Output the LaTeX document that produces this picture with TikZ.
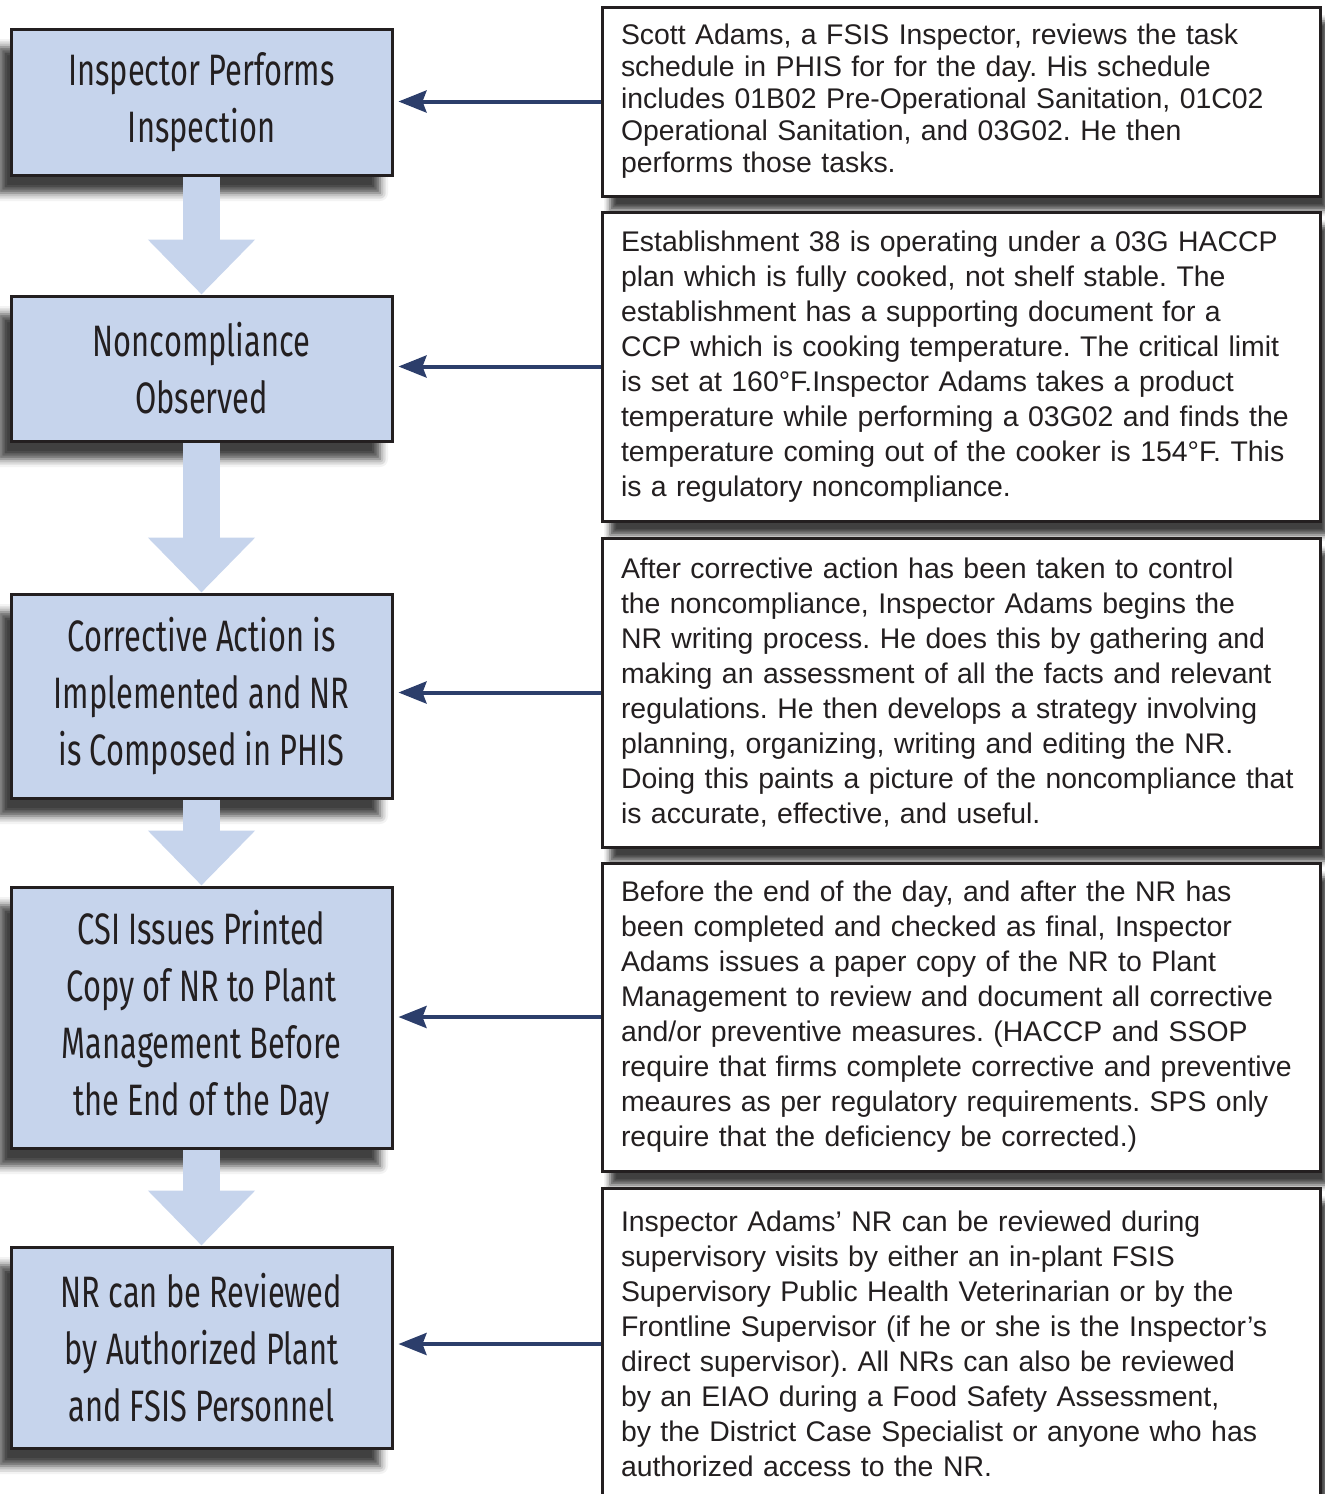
\documentclass[tikz,border=0pt]{standalone}
\usepackage{fontspec}
\setmainfont{Liberation Sans}
\newfontfamily\stagefont[FakeStretch=0.7]{Fira Sans}
\usetikzlibrary{arrows.meta,shadows.blur}
\definecolor{stageblue}{HTML}{C6D4EC}
\definecolor{linknavy}{HTML}{2C3E6B}
\definecolor{inkgray}{HTML}{231F20}
\frenchspacing
\tikzset{
	stage/.style={draw=inkgray,line width=1.5pt,fill=stageblue,minimum width=190.5pt,align=center,text=inkgray,
		font=\stagefont\fontsize{22}{28.5}\selectfont,
		blur shadow={shadow xshift=-6pt,shadow yshift=-9pt,shadow blur radius=4pt,shadow opacity=75}},
	note/.style={draw=inkgray,line width=1.5pt,fill=white,minimum width=359pt,text width=340pt,inner xsep=9.5pt,
		align=left,text=inkgray,font=\fontsize{14.2}{17.5}\selectfont,
		blur shadow={shadow xshift=4pt,shadow yshift=-7pt,shadow blur radius=3pt,shadow opacity=75}},
	flow/.style={draw=stageblue,line width=18.5pt,-{Triangle[length=27.5pt,width=52pt]}},
	link/.style={draw=linknavy,line width=2pt,shorten >=2.5pt,-{Stealth[length=14pt,width=11pt,inset=2pt]}}
}
\begin{document}
\begin{tikzpicture}[x=0.5pt,y=-0.5pt]
	\useasboundingbox (0,0) rectangle (1325,1494);
	\node[stage,minimum height=73pt] (b1) at (201.5,102) {Inspector Performs\\Inspection};
	\node[stage,minimum height=72.5pt] (b2) at (201.5,368.5) {Noncompliance\\Observed};
	\node[stage,minimum height=102pt] (b3) at (201.5,696) {Corrective Action is\\Implemented and NR\\is Composed in PHIS};
	\node[stage,minimum height=130.5pt] (b4) at (201.5,1017.5) {CSI Issues Printed\\Copy of NR to Plant\\Management Before\\the End of the Day};
	\node[stage,minimum height=100.5pt] (b5) at (201.5,1347.5) {NR can be Reviewed\\by Authorized Plant\\and FSIS Personnel};
	\node[note,minimum height=94.5pt,font=\fontsize{14.2}{16}\selectfont] (n1) at (961,101.5) {Scott Adams, a FSIS Inspector, reviews the task\\schedule in PHIS for for the day. His schedule\\includes 01B02 Pre-Operational Sanitation, 01C02\\Operational Sanitation, and 03G02. He then\\performs those tasks.};
	\node[note,minimum height=154.5pt] (n2) at (961,366.5) {Establishment 38 is operating under a 03G HACCP\\plan which is fully cooked, not shelf stable. The\\establishment has a supporting document for a\\CCP which is cooking temperature. The critical limit\\is set at 160°F.Inspector Adams takes a product\\temperature while performing a 03G02 and finds the\\temperature coming out of the cooker is 154°F. This\\is a regulatory noncompliance.};
	\node[note,minimum height=154.5pt] (n3) at (961,692.5) {After corrective action has been taken to control\\the noncompliance, Inspector Adams begins the\\NR writing process. He does this by gathering and\\making an assessment of all the facts and relevant\\regulations. He then develops a strategy involving\\planning, organizing, writing and editing the NR.\\Doing this paints a picture of the noncompliance that\\is accurate, effective, and useful.};
	\node[note,minimum height=154pt] (n4) at (961,1017) {Before the end of the day, and after the NR has\\been completed and checked as final, Inspector\\Adams issues a paper copy of the NR to Plant\\Management to review and document all corrective\\and/or preventive measures. (HACCP and SSOP\\require that firms complete corrective and preventive\\meaures as per regulatory requirements. SPS only\\require that the deficiency be corrected.)};
	\node[note,minimum height=156pt] (n5) at (961,1344) {Inspector Adams’ NR can be reviewed during\\supervisory visits by either an in-plant FSIS\\Supervisory Public Health Veterinarian or by the\\Frontline Supervisor (if he or she is the Inspector’s\\direct supervisor). All NRs can also be reviewed\\by an EIAO during a Food Safety Assessment,\\by the District Case Specialist or anyone who has\\authorized access to the NR.};
	\draw[flow] (b1.south)--(b2.north);
	\draw[flow] (b2.south)--(b3.north);
	\draw[flow] (b3.south)--(b4.north);
	\draw[flow] (b4.south)--(b5.north);
	\draw[link] (n1.west)--(n1.west-|b1.east);
	\draw[link] (n2.west)--(n2.west-|b2.east);
	\draw[link] (n3.west)--(n3.west-|b3.east);
	\draw[link] (n4.west)--(n4.west-|b4.east);
	\draw[link] (n5.west)--(n5.west-|b5.east);
\end{tikzpicture}
\end{document}
